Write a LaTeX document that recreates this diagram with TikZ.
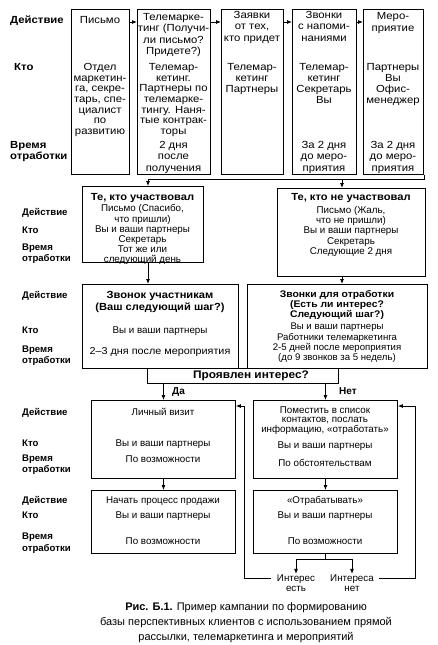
\documentclass[tikz,border=0pt]{standalone}
\usepackage{fontspec}
\setmainfont{Liberation Sans}
\newfontfamily\widefont[FakeStretch=1.1]{Liberation Sans}
\newfontfamily\bwidefont[FakeStretch=1.08]{Liberation Sans}
\usetikzlibrary{arrows.meta,calc}
% text block: [family], name, x, y of first line centre, size, baselineskip, text
\newcommand\tx[7][\normalfont]{\node[txt,font=#1\fontsize{#5}{#6}\selectfont,anchor=north] (#2) at (#3,{#4+3.2-0.7*#6}) {\strut #7};}
% label block: [family], name, x, y of first line centre, size, baselineskip, text
\newcommand\lb[7][\normalfont]{\node[lbl,font=#1\fontsize{#5}{#6}\selectfont\bfseries,anchor=north west] (#2) at (#3,{#4+3.2-0.7*#6}) {\strut #7};}
\begin{document}
\begin{tikzpicture}[x=1pt,y=-1pt,
  box/.style={draw, line width=0.9pt, inner sep=0, anchor=north west},
  txt/.style={align=center, inner sep=0},
  lbl/.style={align=left, inner sep=0},
  arr/.style={line width=0.8pt, -{Latex[length=5pt,width=4pt]}},
  ln/.style={line width=0.8pt}]
\useasboundingbox (0,0) rectangle (437,645);
% ---- top row boxes
\node[box, minimum width=58, minimum height=165] (c1) at (71,9) {};
\node[box, minimum width=73, minimum height=165] (c2) at (137,9) {};
\node[box, minimum width=62, minimum height=165] (c3) at (221,9) {};
\node[box, minimum width=64, minimum height=165] (c4) at (292,9) {};
\node[box, minimum width=60, minimum height=165] (c5) at (363,9) {};
\lb[\widefont]{l1}{10}{20}{10.3}{11}{Действие}
\lb[\widefont]{l2}{14}{67}{10.3}{11}{Кто}
\lb[\widefont]{l3}{10}{145}{10.3}{11}{Время\\отработки}
\tx[\widefont]{t11}{100}{20}{10.3}{11}{Письмо}
\tx[\widefont]{t12}{100}{67}{10.3}{10.7}{Отдел\\маркетин-\\га, секре-\\тарь, спе-\\циалист\\по\\развитию}
\tx[\widefont]{t21}{173.5}{17}{10.3}{11.3}{Телемарке-\\тинг (Получи-\\ли письмо?\\Придете?)}
\tx[\widefont]{t22}{173.5}{67}{10.3}{10.7}{Телемар-\\кетинг.\\Партнеры по\\телемарке-\\тингу. Наня-\\тые контрак-\\торы}
\tx[\widefont]{t23}{173.5}{145}{10.3}{11.5}{2 дня\\после\\получения}
\tx[\widefont]{t31}{252}{15}{10.3}{11.5}{Заявки\\от тех,\\кто придет}
\tx[\widefont]{t32}{252}{67}{10.3}{11}{Телемар-\\кетинг\\Партнеры}
\tx[\widefont]{t41}{324}{15}{10.3}{11.5}{Звонки\\с напоми-\\наниями}
\tx[\widefont]{t42}{324}{67}{10.3}{11}{Телемар-\\кетинг\\Секретарь\\Вы}
\tx[\widefont]{t43}{324}{145}{10.3}{11.5}{За 2 дня\\до меро-\\приятия}
\tx[\widefont]{t51}{393}{16}{10.3}{12}{Меро-\\приятие}
\tx[\widefont]{t52}{393}{67}{10.3}{11}{Партнеры\\Вы\\Офис-\\менеджер}
\tx[\widefont]{t53}{393}{145}{10.3}{11.5}{За 2 дня\\до меро-\\приятия}
\draw[arr] ($(c1.north east)+(0,13)$) -- ($(c2.north west)+(0,13)$);
\draw[arr] ($(c2.north east)+(0,13)$) -- ($(c3.north west)+(0,13)$);
\draw[arr] ($(c3.north east)+(0,13)$) -- ($(c4.north west)+(0,13)$);
\draw[arr] ($(c4.north east)+(0,13)$) -- ($(c5.north west)+(0,13)$);
% ---- participated / not participated
\node[box, minimum width=121, minimum height=76] (A) at (82,186) {};
\node[box, minimum width=148, minimum height=88] (B) at (277,188) {};
\coordinate (bl) at (148,179);
\coordinate (br) at (342,179);
\draw[ln] (c5.south east) |- (bl);
\draw[arr] (bl) -- (bl |- A.north);
\draw[arr] (br) -- (br |- B.north);
\lb{m1}{22}{212}{9.6}{10}{Действие}
\lb{m2}{22}{230}{9.6}{10}{Кто}
\lb{m3}{22}{247}{9.6}{10}{Время\\отработки}
\tx[\bwidefont]{ta0}{142.5}{197}{10.3}{10}{\bfseries Те, кто участвовал}
\tx{ta}{142.5}{208}{9.8}{9.9}{Письмо (Спасибо,\\что пришли)\\Вы и ваши партнеры\\Секретарь\\Тот же или\\следующий день}
\tx[\bwidefont]{tb1}{351}{197}{10.3}{10}{\bfseries Те, кто не участвовал}
\tx{tb2}{351}{210}{9.8}{10.2}{Письмо (Жаль,\\что не пришли)\\Вы и ваши партнеры\\Секретарь\\Следующие 2 дня}
% ---- calls
\node[box, minimum width=156, minimum height=84] (C) at (82,284) {};
\node[box, minimum width=180, minimum height=84] (D) at (247,284) {};
\draw[arr] (bl |- A.south) -- (bl |- C.north);
\draw[arr] (br |- B.south) -- (br |- D.north);
\lb{n1}{22}{295}{9.6}{11}{Действие}
\lb{n2}{22}{330}{9.6}{11}{Кто}
\lb{n3}{22}{349}{9.6}{11}{Время\\отработки}
\tx[\bwidefont]{tc1}{160}{295}{10.3}{10.5}{{\bfseries Звонок участникам}\\{\bfseries (Ваш следующий шаг?)}}
\tx{tc2}{160}{330}{9.8}{11}{Вы и ваши партнеры}
\tx[\bwidefont]{tc3}{160}{351}{10}{11}{2–3 дня после мероприятия}
\tx[\bwidefont]{td1}{337}{294.5}{9.6}{10}{{\bfseries Звонки для отработки}\\{\bfseries (Есть ли интерес?}\\{\bfseries Следующий шаг?)}}
\tx{td2}{337}{326}{9.6}{10}{Вы и ваши партнеры\\Работники телемаркетинга\\2-5 дней после мероприятия\\(до 9 звонков за 5 недель)}
% ---- interest?
\node[box, minimum width=191, minimum height=15] (P) at (147,368) {};
\tx[\bwidefont]{tp}{251}{375.5}{11}{11}{\bfseries Проявлен интерес?}
\node[box, minimum width=144, minimum height=78] (E) at (91,400) {};
\node[box, minimum width=144, minimum height=78] (F) at (253,400) {};
\draw[arr] (E.north |- P.south) -- (E.north);
\draw[arr] (F.north |- P.south) -- (F.north);
\lb{da}{172}{391}{10}{11}{Да}
\lb{net}{339}{391}{10}{11}{Нет}
\lb{e1}{22}{412}{9.6}{11}{Действие}
\lb{e2}{22}{443}{9.6}{11}{Кто}
\lb{e3}{22}{458}{9.6}{11}{Время\\отработки}
\tx{te1}{163}{412}{9.8}{11}{Личный визит}
\tx{te2}{163}{443}{9.8}{11}{Вы и ваши партнеры}
\tx{te3}{163}{459}{9.8}{11}{По возможности}
\tx{tf1}{325}{410}{9.8}{9.3}{Поместить в список\\контактов, послать\\информацию, «отработать»}
\tx{tf2}{325}{445}{9.8}{11}{Вы и ваши партнеры}
\tx{tf3}{325}{463}{9.8}{11}{По обстоятельствам}
% ---- last row
\node[box, minimum width=144, minimum height=63] (G) at (91,490) {};
\node[box, minimum width=144, minimum height=63] (H) at (253,490) {};
\draw[arr] (E.south) -- (G.north);
\draw[arr] (F.south) -- (H.north);
\lb{g1}{22}{500}{9.6}{12}{Действие}
\lb{g2}{22}{515}{9.6}{12}{Кто}
\lb{g3}{22}{536}{9.6}{12}{Время\\отработки}
\tx{tg1}{163}{500}{9.8}{11}{Начать процесс продажи}
\tx{tg2}{163}{515}{9.8}{11}{Вы и ваши партнеры}
\tx{tg3}{163}{541}{9.8}{11}{По возможности}
\tx{th1}{325}{500}{9.8}{11}{«Отрабатывать»}
\tx{th2}{325}{515}{9.8}{11}{Вы и ваши партнеры}
\tx{th3}{325}{541}{9.8}{11}{По возможности}
% ---- outcome split and loops
\coordinate (ti) at (296,559);
\coordinate (tn) at (352,559);
\draw[ln] (H.south) -- (H.south |- ti);
\draw[ln] (ti) -- (tn);
\tx{li}{296}{578}{9.8}{10.5}{Интерес\\есть}
\tx{lnn}{352}{578}{9.8}{10.5}{Интереса\\нет}
\draw[arr] (ti) -- (li.north);
\draw[arr] (tn) -- (lnn.north);
\coordinate (ll) at (271,578);
\coordinate (lc) at (244,406);
\coordinate (rr) at (379,578);
\coordinate (rc) at (415,406);
\draw[arr] (ll) -| (lc) -- (lc -| E.east);
\draw[arr] (rr) -| (rc) -- (rc -| F.east);
% ---- caption
\node[txt, anchor=north, font=\fontsize{11}{15}\selectfont] (cap) at (246,600)
  {\strut{\bfseries Рис. Б.1.} Пример кампании по формированию\\базы перспективных клиентов с использованием прямой\\рассылки, телемаркетинга и мероприятий};
\end{tikzpicture}
\end{document}
